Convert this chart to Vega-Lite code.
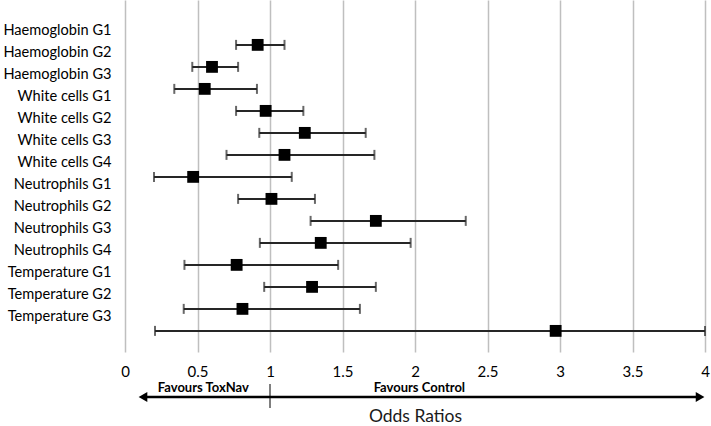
{
  "$schema": "https://vega.github.io/schema/vega-lite/v6.json",
  "padding": {"left": 0, "top": 0, "right": 6, "bottom": 0},
  "background": "white",
  "spacing": 3,
  "config": {
    "view": {"stroke": null},
    "font": "Lato",
    "axis": {"labelFont": "Lato", "titleFont": "Lato", "labelColor": "#000000", "titleColor": "#1a1a1a"}
  },
  "datasets": {
    "rows": [
      {"outcome": "Haemoglobin G1", "or": 0.915, "lo": 0.766, "hi": 1.10},
      {"outcome": "Haemoglobin G2", "or": 0.60, "lo": 0.464, "hi": 0.78},
      {"outcome": "Haemoglobin G3", "or": 0.55, "lo": 0.34, "hi": 0.91},
      {"outcome": "White cells G1", "or": 0.97, "lo": 0.766, "hi": 1.23},
      {"outcome": "White cells G2", "or": 1.24, "lo": 0.926, "hi": 1.66},
      {"outcome": "White cells G3", "or": 1.10, "lo": 0.70, "hi": 1.72},
      {"outcome": "White cells G4", "or": 0.47, "lo": 0.20, "hi": 1.15},
      {"outcome": "Neutrophils G1", "or": 1.01, "lo": 0.78, "hi": 1.31},
      {"outcome": "Neutrophils G2", "or": 1.73, "lo": 1.28, "hi": 2.35},
      {"outcome": "Neutrophils G3", "or": 1.35, "lo": 0.93, "hi": 1.97},
      {"outcome": "Neutrophils G4", "or": 0.77, "lo": 0.41, "hi": 1.47},
      {"outcome": "Temperature G1", "or": 1.29, "lo": 0.96, "hi": 1.73},
      {"outcome": "Temperature G2", "or": 0.81, "lo": 0.405, "hi": 1.62},
      {"outcome": "Temperature G3", "or": 2.97, "lo": 0.207, "hi": 4.0}
    ],
    "arrow": [{"from": 0.124, "to": 3.966}],
    "heads": [{"x": 0.124, "shape": "triangle-left"}, {"x": 3.966, "shape": "triangle-right"}],
    "notes": [{"x": 0.54, "text": "Favours ToxNav"}, {"x": 2.03, "text": "Favours Control"}],
    "divider": [{"x": 1}]
  },
  "vconcat": [
    {
      "width": 580,
      "height": 352,
      "data": {"name": "rows"},
      "encoding": {
        "y": {
          "field": "outcome", "type": "nominal", "sort": null,
          "scale": {"paddingInner": 0, "paddingOuter": 1.07, "align": 0.77},
          "axis": {"title": null, "domain": false, "ticks": false, "labelPadding": 14, "labelOffset": -14, "labelFontSize": 14.6, "minExtent": 125, "maxExtent": 125, "labelLimit": 200}
        }
      },
      "layer": [
        {
          "mark": {"type": "rule", "color": "#262626", "strokeWidth": 2},
          "encoding": {
            "x": {
              "field": "lo", "type": "quantitative",
              "scale": {"domain": [0, 4], "nice": false},
              "axis": {"title": null, "values": [0, 0.5, 1, 1.5, 2, 2.5, 3, 3.5, 4], "format": "~g", "domain": false, "ticks": false, "grid": true, "gridColor": "#bfbfbf", "gridWidth": 1.5, "gridOpacity": 1, "labelPadding": 12, "labelFontSize": 15, "labelFlush": false}
            },
            "x2": {"field": "hi"}
          }
        },
        {
          "mark": {"type": "tick", "orient": "vertical", "color": "#262626", "thickness": 2, "size": 10},
          "encoding": {"x": {"field": "lo", "type": "quantitative"}}
        },
        {
          "mark": {"type": "tick", "orient": "vertical", "color": "#262626", "thickness": 2, "size": 10},
          "encoding": {"x": {"field": "hi", "type": "quantitative"}}
        },
        {
          "mark": {"type": "point", "shape": "square", "filled": true, "color": "#000000", "opacity": 1, "size": 140},
          "encoding": {"x": {"field": "or", "type": "quantitative"}}
        }
      ]
    },
    {
      "width": 580,
      "height": 24,
      "layer": [
        {
          "data": {"name": "arrow"},
          "mark": {"type": "rule", "color": "#000000", "strokeWidth": 2.5},
          "encoding": {
            "x": {"field": "from", "type": "quantitative", "scale": {"domain": [0, 4], "nice": false},
              "axis": {"title": "Odds Ratios", "domain": false, "ticks": false, "labels": false, "grid": false, "titleFontSize": 17.5, "titleFontWeight": "normal", "titlePadding": -1}},
            "x2": {"field": "to"},
            "y": {"datum": 0.46, "type": "quantitative", "scale": {"domain": [0, 1]}, "axis": null}
          }
        },
        {
          "data": {"name": "heads"},
          "mark": {"type": "point", "filled": true, "color": "#000000", "opacity": 1, "size": 100},
          "encoding": {
            "x": {"field": "x", "type": "quantitative"},
            "y": {"datum": 0.46, "type": "quantitative"},
            "shape": {"field": "shape", "type": "nominal", "scale": null, "legend": null}
          }
        },
        {
          "data": {"name": "divider"},
          "mark": {"type": "rule", "color": "#000000", "strokeWidth": 1},
          "encoding": {"x": {"field": "x", "type": "quantitative"}}
        },
        {
          "data": {"name": "notes"},
          "mark": {"type": "text", "fontSize": 13, "fontWeight": "bold", "baseline": "alphabetic", "align": "center", "color": "#000000"},
          "encoding": {
            "x": {"field": "x", "type": "quantitative"},
            "y": {"datum": 0.66, "type": "quantitative"},
            "text": {"field": "text"}
          }
        }
      ]
    }
  ]
}
